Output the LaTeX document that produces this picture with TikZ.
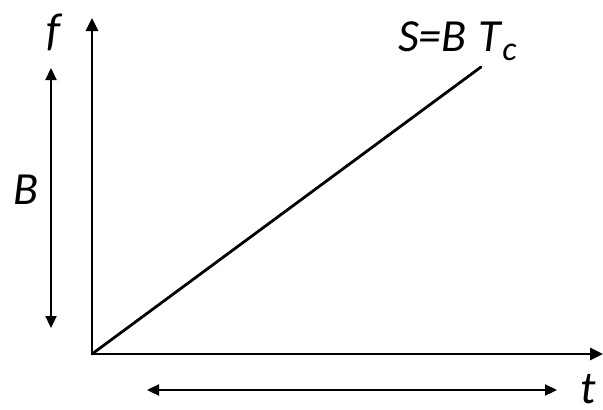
\documentclass[tikz,border=0pt]{standalone}
\usepackage{fontspec}
\setmainfont{Carlito}
\usetikzlibrary{arrows.meta}
\begin{document}
\begin{tikzpicture}[x=1pt,y=-1pt,
  axis/.style={line width=2.8pt,-{Triangle[length=13pt,width=12pt]}},
  dim/.style={line width=2.3pt,{Triangle[length=12pt,width=11pt]}-{Triangle[length=12pt,width=11pt]}},
  lbl/.style={inner sep=0pt,font=\fontsize{46}{50}\selectfont\itshape}]
\useasboundingbox (0,0) rectangle (603,410);
\coordinate (O) at (92,354);
\coordinate (Ytop) at (92,18);
\coordinate (Xend) at (603,354);
\coordinate (Lend) at (481,67);
\draw[axis,line cap=round] (O) -- (Ytop);
\draw[axis] (O) -- (Xend);
\draw[line width=2.8pt,line cap=round] (O) -- (Lend);
\coordinate (B1) at (51,68);
\coordinate (B2) at (51,328);
\draw[dim] (B1) -- (B2);
\coordinate (T1) at (147,390);
\coordinate (T2) at (557,390);
\draw[dim] (T1) -- (T2);
\node[lbl] (f) at (54,32) {f};
\node[lbl] (B) at (26,190) {B};
\node[lbl,anchor=base] (t) at (588,403) {t};
\node[lbl,anchor=base west] (S) at (398,51) {S=B\hspace{12pt}T\hspace{1pt}\raisebox{-9pt}{\fontsize{34}{36}\selectfont c}};
\end{tikzpicture}
\end{document}
